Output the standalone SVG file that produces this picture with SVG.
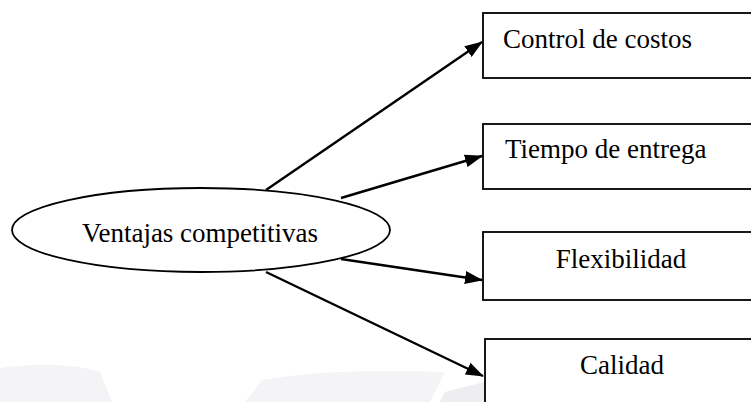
<svg xmlns="http://www.w3.org/2000/svg" width="751" height="402" viewBox="0 0 751 402">
  <style>
    .box { fill: #ffffff; stroke: #000000; stroke-width: 1.8; }
    .label { font-family: "Liberation Serif", "Times New Roman", serif; font-size: 27px; fill: #000000; }
    .link { stroke: #000000; stroke-width: 2.4; fill: none; marker-end: url(#head); }
    .haze { fill: #f4f4f7; }
  </style>
  <defs>
    <marker id="head" viewBox="0 0 18 13" refX="17" refY="6.5" markerUnits="userSpaceOnUse" markerWidth="18" markerHeight="13" orient="auto">
      <path d="M0,0 L18,6.5 L0,13 Z" fill="#000000"/>
    </marker>
  </defs>

  <!-- faint background shapes along the bottom edge -->
  <g id="background">
    <path class="haze" d="M0,368 Q60,360 100,372 L112,402 L0,402 Z"/>
    <path class="haze" d="M245,402 L262,380 Q330,368 445,372 L430,402 Z"/>
    <path d="M445,392 L484,382 L484,402 L440,402 Z" fill="#ededf2"/>
  </g>

  <!-- connectors -->
  <g id="connectors">
    <line class="link" x1="266" y1="190" x2="482" y2="42"/>
    <line class="link" x1="341" y1="198" x2="482" y2="156"/>
    <line class="link" x1="341" y1="259" x2="482" y2="280"/>
    <line class="link" x1="266" y1="272" x2="483" y2="376"/>
  </g>

  <g id="ventajas">
    <ellipse cx="201" cy="230" rx="189" ry="42" fill="#ffffff" stroke="#000000" stroke-width="1.8"/>
    <text class="label" x="200" y="242" text-anchor="middle">Ventajas competitivas</text>
  </g>

  <g id="control">
    <rect class="box" x="483" y="13" width="280" height="65"/>
    <text class="label" x="503" y="48">Control de costos</text>
  </g>

  <g id="tiempo">
    <rect class="box" x="483" y="124" width="280" height="65"/>
    <text class="label" x="505" y="158">Tiempo de entrega</text>
  </g>

  <g id="flexibilidad">
    <rect class="box" x="483" y="232" width="280" height="68"/>
    <text class="label" x="621" y="268" text-anchor="middle">Flexibilidad</text>
  </g>

  <g id="calidad">
    <rect class="box" x="485" y="339" width="280" height="80"/>
    <text class="label" x="622" y="374" text-anchor="middle">Calidad</text>
  </g>
</svg>
